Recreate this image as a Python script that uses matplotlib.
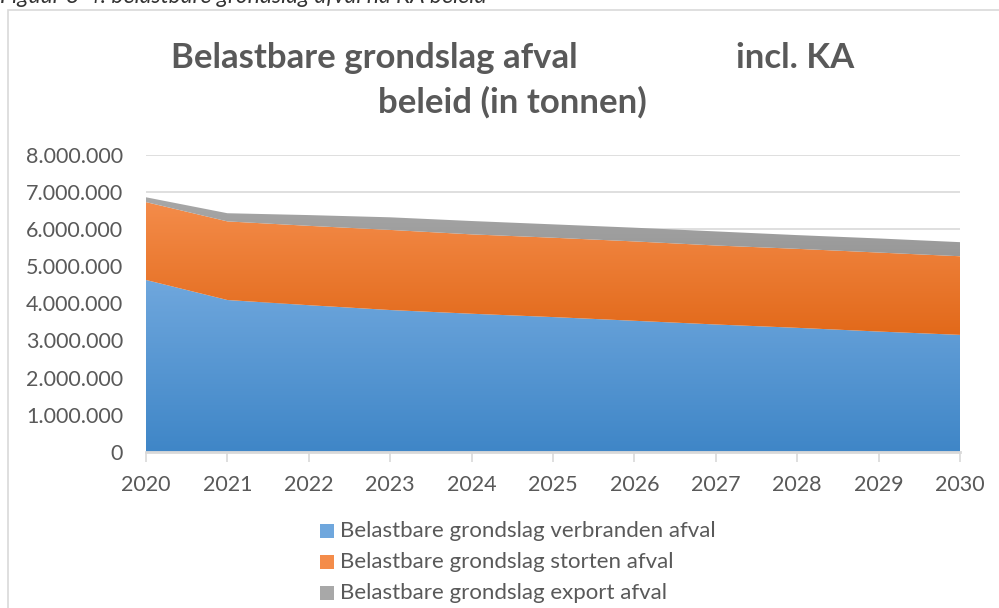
import numpy as np
import matplotlib
matplotlib.use('Agg')
import matplotlib.pyplot as plt
from matplotlib.patches import Rectangle
from matplotlib.ticker import FuncFormatter, MultipleLocator
from matplotlib.colors import LinearSegmentedColormap

# Belastbare grondslag per jaar (tonnen)
jaren = [2020, 2021, 2022, 2023, 2024, 2025, 2026, 2027, 2028, 2029, 2030]
verbranden = [4630000, 4090000, 3950000, 3820000, 3720000, 3630000, 3530000, 3430000, 3340000, 3240000, 3150000]
storten = [2100000, 2120000, 2140000, 2160000, 2140000, 2140000, 2140000, 2130000, 2130000, 2130000, 2120000]
export = [130000, 220000, 290000, 340000, 360000, 360000, 370000, 380000, 370000, 380000, 380000]

labels = ["Belastbare grondslag verbranden afval",
          "Belastbare grondslag storten afval",
          "Belastbare grondslag export afval"]
# (kleur boven, kleur onder) voor de verloop-vulling
verlopen = [("#6fa7dd", "#3f86c7"), ("#f48c4a", "#e2691a"), ("#a8a8a8", "#989898")]

TEKST = "#595959"
RASTER = "#d9d9d9"
FONT = "Lato"
FS = 15.5

W, H = 999, 608
fig = plt.figure(figsize=(W / 100, H / 100), dpi=100)

# kader om de grafiek
fig.patches.append(Rectangle((8 / W, -0.01), 1.0, 1 - 10 / H + 0.01, transform=fig.transFigure,
                             fill=False, edgecolor=RASTER, linewidth=1.2))

# figuurbijschrift, bovenrand valt buiten beeld
fig.text(0.0, 1 - 3 / H, "Figuur 8-4: belastbare grondslag afval na KA beleid",
         fontsize=16.5, fontstyle="italic", family=FONT, color="#333333", va="baseline")

ax = fig.add_axes([146 / W, 1 - 451.7 / H, (960 - 146) / W, (451.7 - 155) / H])

x = np.array(jaren)
lagen = [np.array(verbranden), np.array(storten), np.array(export)]
onder = np.zeros(len(x))
for laag, (c_top, c_bot) in zip(lagen, verlopen):
    boven = onder + laag
    poly = ax.fill_between(x, onder, boven, facecolor="none", edgecolor="none", zorder=2)
    cmap = LinearSegmentedColormap.from_list("v", [c_bot, c_top])
    grad = np.linspace(0, 1, 256).reshape(-1, 1)
    ymin, ymax = onder.min(), boven.max()
    im = ax.imshow(grad, cmap=cmap, origin="lower", aspect="auto",
                   extent=[x[0], x[-1], ymin, ymax], zorder=2, interpolation="bicubic")
    im.set_clip_path(poly.get_paths()[0], transform=ax.transData)
    onder = boven

ax.set_xlim(2020, 2030)
ax.set_ylim(0, 8000000)
ax.set_xticks(jaren)
ax.yaxis.set_major_locator(MultipleLocator(1000000))
ax.yaxis.set_major_formatter(FuncFormatter(lambda v, p: f"{int(v):,}".replace(",", ".")))

ax.grid(axis="y", color=RASTER, linewidth=1.2, zorder=0)
ax.set_axisbelow(True)
for s in ["top", "right", "left"]:
    ax.spines[s].set_visible(False)
ax.spines["bottom"].set_color(RASTER)
ax.spines["bottom"].set_linewidth(2)
ax.spines["bottom"].set_zorder(3)
ax.tick_params(axis="x", length=7, width=1.2, color=RASTER, pad=10, labelsize=FS, labelcolor=TEKST)
ax.tick_params(axis="y", length=0, pad=16.5, labelsize=FS, labelcolor=TEKST)
for lbl in ax.get_xticklabels() + ax.get_yticklabels():
    lbl.set_family(FONT)

# titel
titel = dict(ha="center", va="center", fontsize=25, fontweight="bold", color=TEKST, family=FONT)
fig.text(374 / W, 1 - 58 / H, "Belastbare grondslag afval", **titel)
fig.text(795 / W, 1 - 58 / H, "incl. KA", **titel)
fig.text(512 / W, 1 - 102 / H, "beleid (in tonnen)", **titel)

# legenda
for i, (lab, (c_top, c_bot)) in enumerate(zip(labels, verlopen)):
    yc = 531 + i * 31
    fig.patches.append(Rectangle((320 / W, 1 - (yc + 7) / H), 14 / W, 14 / H,
                                 transform=fig.transFigure, facecolor=c_top, edgecolor="none"))
    fig.text(340 / W, 1 - yc / H, lab, fontsize=16, color=TEKST, family=FONT, va="center")

fig.savefig("out.png", dpi=100)
